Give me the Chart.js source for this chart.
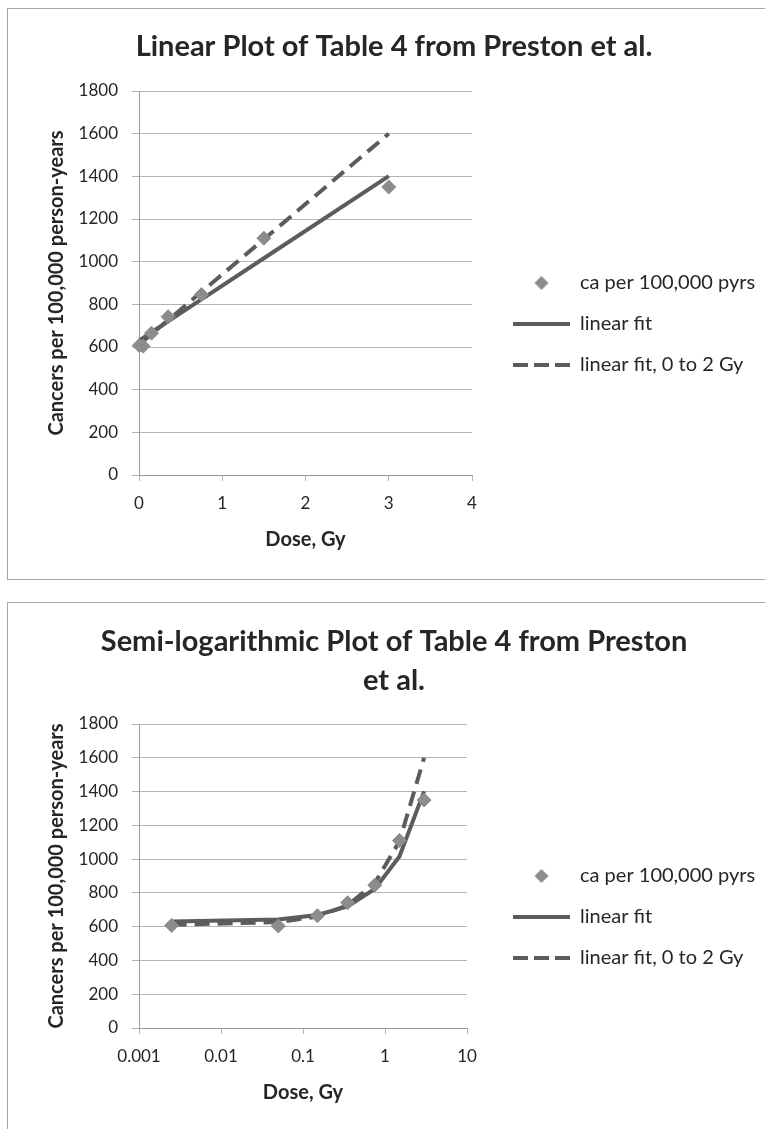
<!DOCTYPE html>
<html>
<head>
<meta charset="utf-8">
<script src="https://cdn.jsdelivr.net/npm/chart.js@4.4.1/dist/chart.umd.min.js"></script>
<style>
  html, body { margin: 0; padding: 0; background: #fff; width: 765px; height: 1129px; overflow: hidden; }
  .caixa { position: absolute; left: 7px; width: 820px; border: 1px solid #a6a6a6; overflow: hidden; }
  #caixa1 { top: 8px; height: 570px; }
  #caixa2 { top: 602px; height: 560px; }
  canvas { position: absolute; left: 0; top: 0; }
</style>
</head>
<body>
<div class="caixa" id="caixa1"><canvas id="linear" width="757" height="570"></canvas></div>
<div class="caixa" id="caixa2"><canvas id="semilog" width="757" height="529"></canvas></div>
<script>
// dados (Table 4, Preston et al.)
const doses = [0.0025, 0.05, 0.15, 0.35, 0.75, 1.5, 3.0];
const casos = [607, 604, 665, 742, 846, 1110, 1350];
const ajusteLinear = [631, 643, 669, 720, 823, 1016, 1401];
const ajuste0a2 = [611, 627, 660, 726, 858, 1105, 1600];

const nomes = ['ca per 100,000 pyrs', 'linear fit', 'linear fit, 0 to 2 Gy'];
const ticksLog = [0.001, 0.01, 0.1, 1, 10];

const corTexto = '#262626';
const corGrade = '#b4b4b4';
const corEixo = '#9c9c9c';
const corPonto = '#8c8c8c';
const corLinha = '#5c5c5c';
const fonte = 'Lato';
const tamLegenda = 20;
const tamTicks = 17;
const tamEixo = 20;

function pontos(xs, ys) {
  return xs.map((x, i) => ({ x: x, y: ys[i] }));
}

function larguraTexto(txt, f) {
  const c = document.createElement('canvas').getContext('2d');
  c.font = f;
  return c.measureText(txt).width;
}

// losango da legenda
const losango = document.createElement('canvas');
losango.width = 16;
losango.height = 16;
(function() {
  const c = losango.getContext('2d');
  c.fillStyle = corPonto;
  c.beginPath();
  c.moveTo(8, 1); c.lineTo(15, 8); c.lineTo(8, 15); c.lineTo(1, 8);
  c.closePath();
  c.fill();
})();

const W = 757;
const padLeg = 41 - tamLegenda;
const larguraItens = 57 + tamLegenda / 2 + Math.max(...nomes.map(n => larguraTexto(n, tamLegenda + 'px ' + fonte)));
const larguraLegenda = padLeg + larguraItens + 10;

function criarGrafico(id, cfg) {
  const espaco = 505 - padLeg - cfg.direita;
  const fimLegenda = 505 - padLeg + larguraLegenda;
  const padR = W - fimLegenda;
  const padL = Math.max(0, 2 * cfg.centroTitulo - fimLegenda);
  const alturaX = cfg.H - cfg.baixo;
  const nLinhas = Array.isArray(cfg.titulo) ? cfg.titulo.length : 1;
  const tituloTopo = cfg.centroLinha1 - 19.5;
  const tituloBaixo = cfg.topo - tituloTopo - 39 * nLinhas;

  const eixoX = cfg.log ? {
    type: 'logarithmic', min: 0.001, max: 10,
    afterBuildTicks: s => { s.ticks = ticksLog.map(v => ({ value: v })); },
    ticks: { callback: v => String(v) }
  } : {
    type: 'linear', min: 0, max: 4,
    ticks: { stepSize: 1 }
  };
  eixoX.ticks.color = corTexto;
  eixoX.ticks.font = { family: fonte, size: tamTicks };
  eixoX.ticks.padding = 12;
  eixoX.ticks.maxRotation = 0;
  eixoX.grid = { drawOnChartArea: false, color: corGrade, tickLength: 6 };
  eixoX.border = { color: corEixo };
  eixoX.title = { display: true, text: 'Dose, Gy', color: corTexto, font: { family: fonte, size: tamEixo, weight: 'bold' }, padding: { top: 0, bottom: 27 } };
  eixoX.afterFit = s => { s.height = alturaX; };

  return new Chart(document.getElementById(id), {
    type: 'scatter',
    data: {
      datasets: [
        { label: nomes[0], data: pontos(doses, casos), showLine: false, pointStyle: 'rectRot', pointRadius: 7, pointHoverRadius: 7,
          backgroundColor: corPonto, borderColor: corPonto, borderWidth: 1, clip: false, xAxisID: 'x', yAxisID: 'y' },
        { label: nomes[1], data: pontos(doses, ajusteLinear), showLine: true, borderColor: corLinha, borderWidth: 4,
          pointRadius: 0, pointHoverRadius: 0, clip: false, xAxisID: 'x', yAxisID: 'y' },
        { label: nomes[2], data: pontos(doses, ajuste0a2), showLine: true, borderColor: corLinha, borderWidth: 4, borderDash: [15, 8],
          pointRadius: 0, pointHoverRadius: 0, clip: false, xAxisID: 'x', yAxisID: 'y' }
      ]
    },
    options: {
      responsive: false,
      animation: false,
      layout: { padding: { left: padL, right: padR, top: 0, bottom: 0 } },
      plugins: {
        tooltip: { enabled: false },
        title: {
          display: true, text: cfg.titulo, color: corTexto,
          font: { family: fonte, size: 29, weight: 'bold', lineHeight: '39px' },
          padding: { top: tituloTopo, bottom: tituloBaixo }
        },
        legend: {
          position: 'right',
          fullSize: false,
          maxWidth: 500,
          title: { display: true, text: '', font: { size: 10, lineHeight: 1 }, padding: { top: 72, bottom: 0 } },
          labels: {
            usePointStyle: true,
            pointStyleWidth: 57,
            boxHeight: 10,
            padding: padLeg,
            color: corTexto,
            font: { family: fonte, size: tamLegenda },
            generateLabels: () => [
              { text: nomes[0], pointStyle: losango, fillStyle: corPonto, strokeStyle: corPonto, lineWidth: 0, fontColor: corTexto, datasetIndex: 0 },
              { text: nomes[1], pointStyle: 'line', fillStyle: corLinha, strokeStyle: corLinha, lineWidth: 4, lineDash: [], fontColor: corTexto, datasetIndex: 1 },
              { text: nomes[2], pointStyle: 'line', fillStyle: corLinha, strokeStyle: corLinha, lineWidth: 4, lineDash: [15, 6], fontColor: corTexto, datasetIndex: 2 }
            ]
          }
        }
      },
      scales: {
        x: eixoX,
        y: {
          type: 'linear', min: 0, max: 1800,
          ticks: { stepSize: 200, callback: v => String(v), color: corTexto, font: { family: fonte, size: tamTicks }, padding: 14 },
          grid: { color: corGrade, tickLength: 7 },
          border: { color: corEixo },
          title: { display: true, text: 'Cancers per 100,000 person-years', color: corTexto,
            font: { family: fonte, size: tamEixo, weight: 'bold' }, padding: { top: 49 - padL - 12, bottom: 0 } },
          afterFit: s => { s.width = cfg.esquerda - padL; }
        },
        espaco: {
          type: 'linear', position: 'right', display: true,
          grid: { display: false }, border: { display: false }, ticks: { display: false },
          afterFit: s => { s.width = espaco; }
        }
      }
    }
  });
}

criarGrafico('linear', {
  titulo: 'Linear Plot of Table 4 from Preston et al.',
  log: false, H: 570, esquerda: 131, direita: 464, topo: 82, baixo: 466,
  centroTitulo: 386, centroLinha1: 38
});

criarGrafico('semilog', {
  titulo: ['Semi-logarithmic Plot of Table 4 from Preston', 'et al.'],
  log: true, H: 529, esquerda: 131, direita: 459, topo: 121, baixo: 425,
  centroTitulo: 386, centroLinha1: 39
});
</script>
</body>
</html>
